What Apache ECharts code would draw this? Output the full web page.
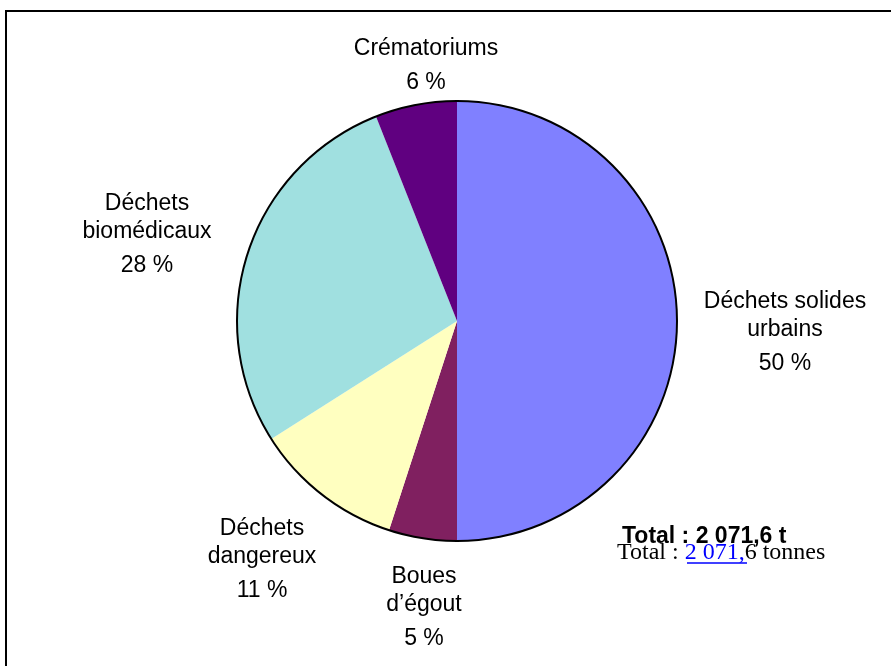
<!DOCTYPE html>
<html>
<head>
<meta charset="utf-8">
<script src="https://cdn.jsdelivr.net/npm/echarts@6/dist/echarts.min.js"></script>
<style>
  html, body { margin: 0; padding: 0; background: #fff; }
  #chart { width: 891px; height: 666px; }
</style>
</head>
<body>
<div id="chart"></div>
<script>
// Répartition des déchets (part en %)
const categories = ['Déchets solides\nurbains', 'Boues\nd\u2019égout', 'Déchets\ndangereux', 'Déchets\nbiomédicaux', 'Crématoriums'];
const shares = [50, 5, 11, 28, 6];
const sliceColors = ['#8080FF', '#802060', '#FFFFC0', '#A0E0E0', '#600080'];

// label block centres (x, y), one per slice
const labelCentres = [[785, 336], [424, 611], [262, 563], [147, 238], [426, 69]];

const chart = echarts.init(document.getElementById('chart'), null, { renderer: 'canvas' });

const labelFont = 'Liberation Sans, Arial, sans-serif';

chart.setOption({
  animation: false,
  backgroundColor: '#ffffff',
  graphic: [
    {
      type: 'rect',
      shape: { x: 6, y: 11, width: 900, height: 700 },
      style: { fill: 'none', stroke: '#000', lineWidth: 2 },
      z: 0
    },
    {
      type: 'text',
      x: 617, y: 553,
      style: {
        text: 'Total : {u|2 071,}6 tonnes',
        font: '24px "Liberation Serif", "Times New Roman", serif',
        fill: '#000',
        verticalAlign: 'middle',
        rich: {
          u: {
            fontFamily: 'Liberation Serif',
            fontSize: 24,
            fill: '#0000FF',
            color: '#0000FF'
          }
        }
      },
      z: 10
    },
    {
      type: 'line',
      shape: { x1: 687, y1: 563, x2: 747, y2: 563 },
      style: { stroke: '#0000FF', lineWidth: 1.3 },
      z: 10
    },
    {
      type: 'text',
      x: 622, y: 537,
      style: {
        text: 'Total : 2 071,6 t',
        font: 'bold 23px "Liberation Sans", Arial, sans-serif',
        fill: '#000',
        verticalAlign: 'middle'
      },
      z: 11
    }
  ],
  series: [
    {
      type: 'pie',
      center: [457, 321],
      radius: 220,
      startAngle: 90,
      clockwise: true,
      silent: true,
      itemStyle: { borderWidth: 0 },
      label: {
        show: true,
        position: 'outside',
        color: '#000',
        fontFamily: labelFont,
        fontSize: 23,
        align: 'center',
        overflow: 'none',
        formatter: function (p) {
          return '{n|' + p.name + '}\n{p|' + p.value + ' %}';
        },
        rich: {
          n: { fontFamily: labelFont, fontSize: 23, lineHeight: 28, color: '#000', align: 'center' },
          p: { fontFamily: labelFont, fontSize: 23, lineHeight: 40, color: '#000', align: 'center' }
        }
      },
      labelLine: { show: false },
      labelLayout: function (params) {
        const c = labelCentres[params.dataIndex];
        return { x: c[0], y: c[1], align: 'center', verticalAlign: 'middle' };
      },
      data: categories.map(function (name, i) {
        return { name: name, value: shares[i], itemStyle: { color: sliceColors[i] } };
      })
    },
    {
      // outline of the pie
      type: 'pie',
      center: [457, 321],
      radius: [219, 221],
      silent: true,
      label: { show: false },
      labelLine: { show: false },
      itemStyle: { color: '#000', borderWidth: 0 },
      data: [{ name: 'contour', value: 1 }]
    }
  ]
});
</script>
</body>
</html>
